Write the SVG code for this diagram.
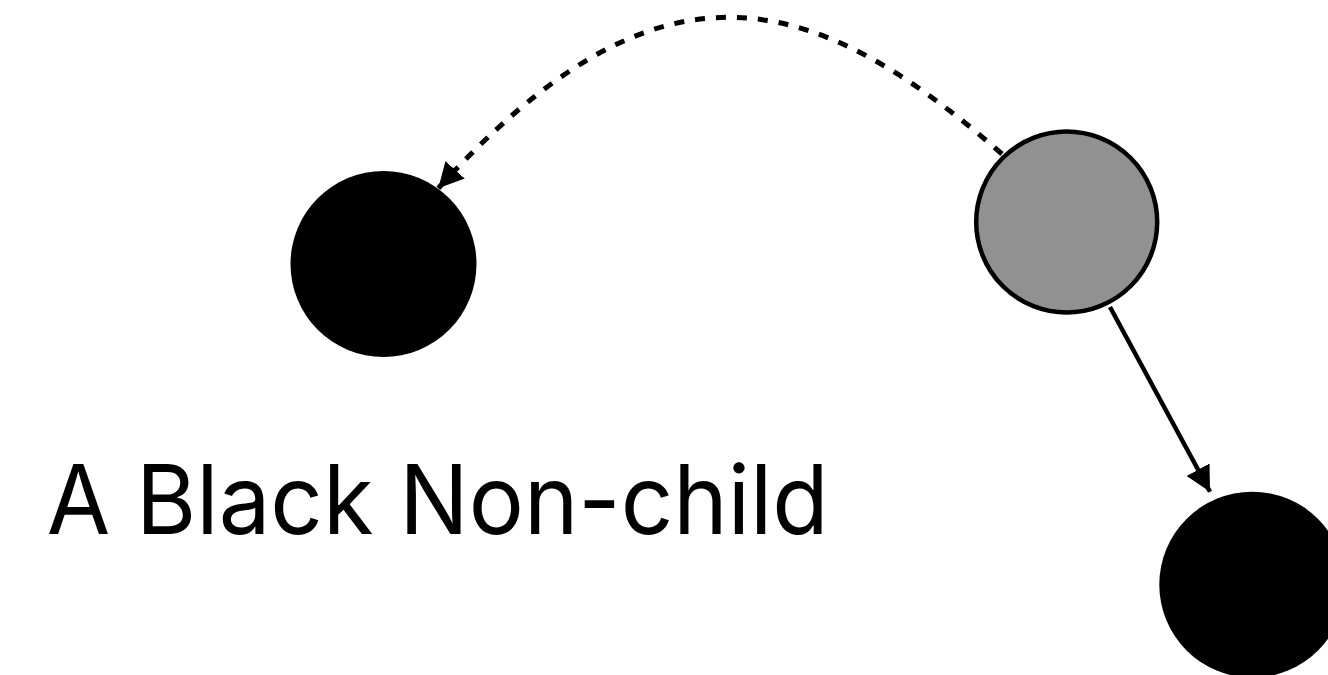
<svg xmlns="http://www.w3.org/2000/svg" width="1328" height="675" viewBox="0 0 1328 675">
  <style>
    .black { fill: #000000; }
    .gray { fill: #919191; stroke: #000000; stroke-width: 4.5; }
    .edge { fill: none; stroke: #000000; stroke-width: 4.5; }
    .dashed { stroke-width: 5; stroke-dasharray: 10 11; }
    .label { font-family: Inter, "Liberation Sans", sans-serif; font-size: 96px; fill: #000000; }
  </style>
  <defs>
    <marker id="arrow" markerUnits="userSpaceOnUse" markerWidth="26" markerHeight="26" refX="25" refY="13" orient="auto" viewBox="0 0 26 26">
      <path d="M0,0 L25,13 L0,26 z" fill="#000000"/>
    </marker>
  </defs>
  <rect width="1328" height="675" fill="#ffffff"/>
  <g id="connectors">
    <path class="edge dashed" d="M1002,154 C806,-17.8 655.2,-50.2 438.3,188.3" marker-end="url(#arrow)"/>
    <path class="edge" d="M1110,307 L1210,491.7" marker-end="url(#arrow)"/>
  </g>
  <g id="node-left">
    <circle class="black" cx="383.5" cy="264" r="93"/>
  </g>
  <g id="node-gray">
    <circle class="gray" cx="1066.7" cy="222" r="90.5"/>
  </g>
  <g id="node-bottom">
    <circle class="black" cx="1252.3" cy="584.7" r="93"/>
  </g>
  <g id="label">
    <text class="label" x="46.7" y="534" textLength="782" lengthAdjust="spacingAndGlyphs">A Black Non-child</text>
  </g>
</svg>
